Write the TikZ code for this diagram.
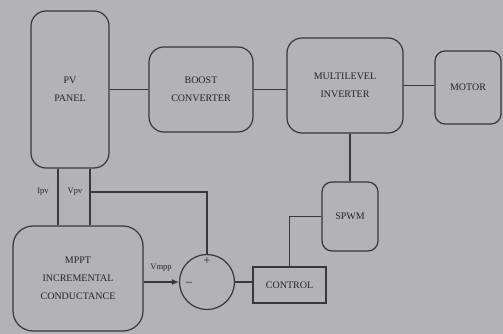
\documentclass[tikz,border=0pt]{standalone}
\usepackage{fontspec}
\setmainfont{Liberation Serif}
\usetikzlibrary{arrows.meta,calc}
\definecolor{bgc}{HTML}{B3B2B7}
\definecolor{linec}{HTML}{38373C}
\definecolor{textc}{HTML}{252429}
\begin{document}
\begin{tikzpicture}[x=1pt,y=-1pt,line width=1.2pt,
  blk/.style={draw=linec, rounded corners=#1, inner sep=0pt, align=center,
    font=\fontsize{10}{18}\selectfont, text=textc},
  lbl/.style={font=\fontsize{8.5}{9}\selectfont, text=textc, inner sep=0pt},
  wire/.style={draw=linec}]
\fill[bgc] (0,0) rectangle (503,334);
\useasboundingbox (0,0) rectangle (503,334);
\node[blk=15, minimum width=78pt, minimum height=157pt] (pv) at (70,89.5) {PV\\PANEL};
\node[blk=15, minimum width=104pt, minimum height=85pt] (boost) at (201,89.5) {BOOST\\CONVERTER};
\node[blk=15, minimum width=116pt, minimum height=95pt] (inv) at (345,85.5) {MULTILEVEL\\INVERTER};
\node[blk=10, minimum width=66pt, minimum height=73pt] (motor) at (468,87.5) {MOTOR};
\node[blk=10, minimum width=56pt, minimum height=69pt] (spwm) at (350,216.5) {SPWM};
\node[blk=0, minimum width=73pt, minimum height=36pt] (ctrl) at (289.5,285) {CONTROL};
\node[blk=20, minimum width=130pt, minimum height=105pt] (mppt) at (78,278.5) {MPPT\\INCREMENTAL\\CONDUCTANCE};
\node[circle, draw=linec, minimum size=55pt, inner sep=0pt] (sum) at (207,282) {};
\draw[wire] (pv) -- (boost);
\draw[wire] (boost.east) -- (boost.east -| inv.west);
\draw[wire] (inv.east) -- (inv.east -| motor.west);
\draw[wire] (spwm.north |- inv.south) -- (spwm.north);
\draw[wire] (spwm.west) -| (ctrl.north);
\draw[wire] (sum.east) -- (sum.east -| ctrl.west);
\coordinate (ip) at ([xshift=-12pt]pv.south);
\coordinate (vp) at ([xshift=20pt]pv.south);
\draw[wire] (ip) -- (ip |- mppt.north);
\draw[wire] (vp) -- (vp |- mppt.north);
\draw[wire] (vp |- 0,192) -| (sum.north);
\draw[wire,-{Latex[length=7pt,width=6pt]}] (sum.west -| mppt.east) -- (sum.west);
\node[lbl] (lip) at (43,192) {Ipv};
\node[lbl] (lvp) at (75,192) {Vpv};
\node[lbl] (lvm) at (161,268) {Vmpp};
\node[lbl, font=\fontsize{12}{12}\selectfont] (lplus) at (207,261) {+};
\node[lbl, font=\fontsize{12}{12}\selectfont] (lminus) at (189,284) {\textendash};
\end{tikzpicture}
\end{document}
